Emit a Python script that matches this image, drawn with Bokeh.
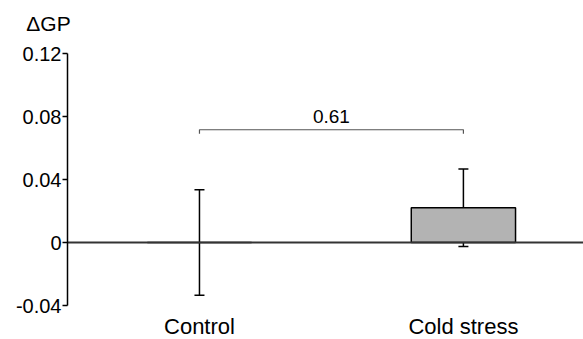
from bokeh.plotting import figure
from bokeh.models import Range1d, FixedTicker, Whisker, TeeHead, ColumnDataSource, Label
from bokeh.embed import file_html
from bokeh.resources import INLINE

# ---- data ----
categories = ["Control", "Cold stress"]
positions = [0.5, 1.5]
means = [0.0, 0.022]
errors = [0.0335, 0.0246]
p_value_label = "0.61"
bracket_y = 0.0716
bracket_drop = 0.0025
y_ticks = [-0.04, 0, 0.04, 0.08, 0.12]
y_tick_labels = ["-0.04", "0", "0.04", "0.08", "0.12"]
y_label = "\u0394GP"

FONT = "Liberation Sans"
Y0, Y1 = -0.04, 0.12
X0, X1 = 0, 1.955

# layout: the frame fills the whole canvas; axis drawn at a fixed location inside it
W, H = 583, 339
AXIS_PX = 252          # vertical extent of the value axis
TOP_PX, BOT_PX = 53, 34
LEFT_PX = 67
per_px_y = (Y1 - Y0) / AXIS_PX
y_lo = Y0 - BOT_PX * per_px_y
y_hi = Y1 + TOP_PX * per_px_y
per_px_x = (X1 - X0) / (W - LEFT_PX)
x_lo = X0 - LEFT_PX * per_px_x

p = figure(width=W, height=H, output_backend="svg", toolbar_location=None,
           x_range=Range1d(x_lo, X1), y_range=Range1d(y_lo, y_hi),
           min_border_left=0, min_border_right=0, min_border_top=0, min_border_bottom=0)

p.background_fill_color = "white"
p.border_fill_color = "white"
p.outline_line_color = None
p.xgrid.visible = False
p.ygrid.visible = False

# y axis (only drawn over the data range, at x = X0)
p.yaxis.fixed_location = X0
p.yaxis.bounds = (Y0, Y1)
p.yaxis.ticker = FixedTicker(ticks=y_ticks)
p.yaxis.major_label_overrides = {t: l for t, l in zip(y_ticks, y_tick_labels)}
p.yaxis.axis_line_width = 1.5
p.yaxis.axis_line_color = "black"
p.yaxis.major_tick_line_width = 1.5
p.yaxis.major_tick_line_color = "black"
p.yaxis.major_tick_out = 5
p.yaxis.major_tick_in = 0
p.yaxis.minor_tick_line_color = None
p.yaxis.major_label_text_font = FONT
p.yaxis.major_label_text_font_size = "20px"
p.yaxis.major_label_text_color = "black"
p.yaxis.major_label_standoff = 1

# x axis hidden; category labels drawn as labels below the data area
p.xaxis.visible = False

# y label at top of axis
p.add_layout(Label(x=X0, y=Y1, text=y_label, text_align="center", text_baseline="alphabetic",
                   x_offset=-19, y_offset=30, text_font=FONT, text_font_size="21px",
                   text_color="black"))

for xpos, cat in zip(positions, categories):
    p.add_layout(Label(x=xpos, y=Y0, text=cat, text_align="center", text_baseline="bottom",
                       y_offset=-33, text_font=FONT, text_font_size="22px", text_color="black"))

src = ColumnDataSource(data=dict(
    x=positions, top=means,
    upper=[m + e for m, e in zip(means, errors)],
    lower=[m - e for m, e in zip(means, errors)],
))

# bars
p.vbar(x="x", top="top", bottom=0, width=0.395, source=src,
       fill_color="#b3b3b3", line_color="black", line_width=1.5)

# zero line (from the axis to the right edge), drawn over the bar bases
p.segment(x0=[X0], y0=[0], x1=[X1], y1=[0], line_color="#333333", line_width=1.8)

# error bars
p.add_layout(Whisker(base="x", upper="upper", lower="lower", source=src, dimension="height",
                     line_color="black", line_width=1.5,
                     upper_head=TeeHead(size=10, line_color="black", line_width=1.5),
                     lower_head=TeeHead(size=10, line_color="black", line_width=1.5)))

# significance bracket
bx = [positions[0], positions[0], positions[1], positions[1]]
by = [bracket_y - bracket_drop, bracket_y, bracket_y, bracket_y - bracket_drop]
p.line(bx, by, line_color="#555555", line_width=1.2)
p.add_layout(Label(x=(positions[0] + positions[1]) / 2, y=bracket_y, text=p_value_label,
                   text_align="center", text_baseline="alphabetic", y_offset=13,
                   text_font=FONT, text_font_size="19px", text_color="black"))

open("out.html", "w").write(file_html(p, INLINE))
